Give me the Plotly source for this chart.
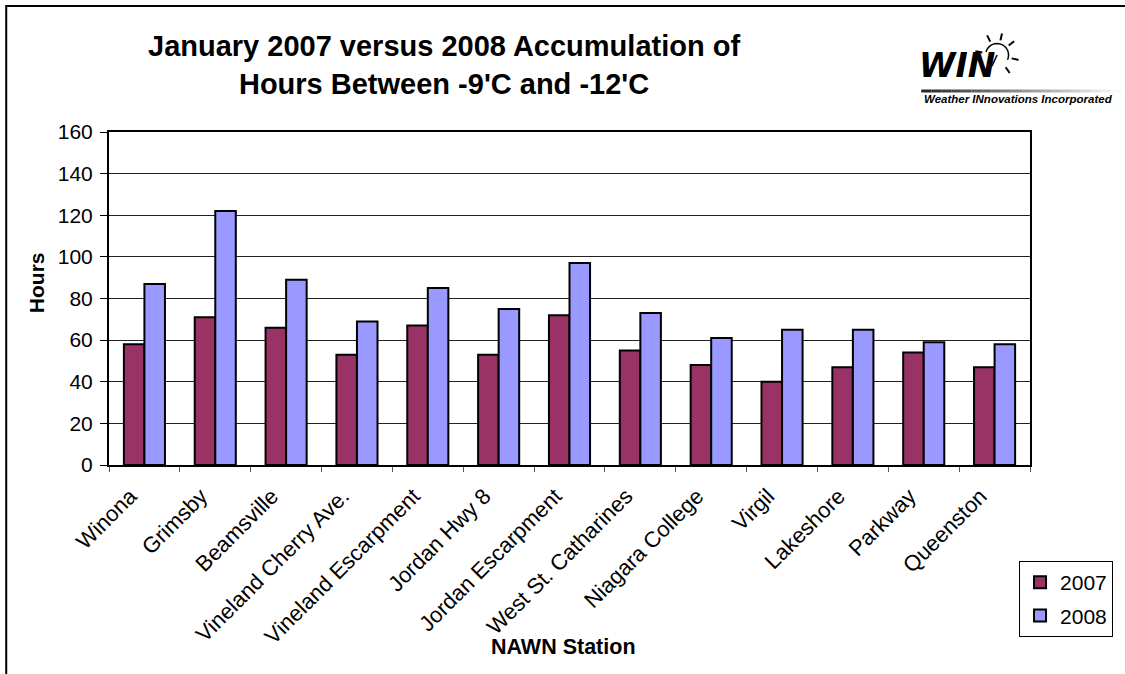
import plotly.graph_objects as go
import math

stations = ["Winona", "Grimsby", "Beamsville", "Vineland Cherry Ave.", "Vineland Escarpment",
            "Jordan Hwy 8", "Jordan Escarpment", "West St. Catharines", "Niagara College",
            "Virgil", "Lakeshore", "Parkway", "Queenston"]
hours_2007 = [58, 71, 66, 53, 67, 53, 72, 55, 48, 40, 47, 54, 47]
hours_2008 = [87, 122, 89, 69, 85, 75, 97, 73, 61, 65, 65, 59, 58]
y_ticks = [0, 20, 40, 60, 80, 100, 120, 140, 160]

W, H = 1125, 674
L, R, T, B = 109, 1032, 132, 465
FONT = "Liberation Sans, Arial, sans-serif"
FS = 21

def px(x):
    return (x - L) / (R - L)

def py(y):
    return (B - y) / (B - T)

n = len(stations)
label_pos = [i - 0.2 for i in range(n)]

fig = go.Figure()
fig.add_trace(go.Bar(x=stations, y=hours_2007, name="2007", legendgroup="a",
                     marker=dict(color="#993366", line=dict(color="black", width=2))))
fig.add_trace(go.Bar(x=stations, y=hours_2008, name="2008", legendgroup="b",
                     marker=dict(color="#9999FF", line=dict(color="black", width=2))))
# helper (empty) trace so the label axis is drawn
fig.add_trace(go.Scatter(x=[], y=[], xaxis="x2", yaxis="y", showlegend=False,
                         hoverinfo="skip"))

shapes = []
# outer chart border (extends past right/bottom of image)
shapes.append(dict(type="rect", xref="paper", yref="paper",
                   x0=px(6), y0=py(6), x1=px(1140), y1=py(690),
                   line=dict(color="black", width=2), fillcolor="rgba(0,0,0,0)", layer="above"))
# logo gradient line
for i in range(20):
    x0 = 923 + i * 10
    g = int(40 + i * 11)
    shapes.append(dict(type="line", xref="paper", yref="paper",
                       x0=px(x0), x1=px(x0 + 10), y0=py(91), y1=py(91),
                       line=dict(color=f"rgb({g},{g},{g})", width=3)))
# sun arc
cx, cy, r = 999, 55, 11.5
pts = []
for k in range(0, 19):
    a = math.radians(165 - k * 10.5)
    pts.append((cx + r * math.cos(a), cy - r * math.sin(a)))
path = "M " + " L ".join(f"{px(a):.5f},{py(b):.5f}" for a, b in pts)
shapes.append(dict(type="path", xref="paper", yref="paper", path=path,
                   line=dict(color="black", width=1.5)))
# sun rays
for ang in [170, 117, 77, 39, -13, -55]:
    a = math.radians(ang)
    r0, r1 = 15, 22
    shapes.append(dict(type="line", xref="paper", yref="paper",
                       x0=px(cx + r0 * math.cos(a)), y0=py(cy - r0 * math.sin(a)),
                       x1=px(cx + r1 * math.cos(a)), y1=py(cy - r1 * math.sin(a)),
                       line=dict(color="black", width=2)))
shapes.append(dict(type="line", xref="paper", yref="paper",
                   x0=px(999), y0=py(55), x1=px(994), y1=py(66),
                   line=dict(color="black", width=1.5)))

annotations = [
    dict(text="<b>January 2007 versus 2008 Accumulation of<br>Hours Between -9'C and -12'C</b>",
         xref="paper", yref="paper", x=px(445), y=py(65), xanchor="center", yanchor="middle",
         showarrow=False, font=dict(family=FONT, size=29, color="black")),
    dict(text="<b>Hours</b>", xref="paper", yref="paper", x=px(36), y=py(283),
         xanchor="center", yanchor="middle", textangle=-90, showarrow=False,
         font=dict(family=FONT, size=FS, color="black")),
    dict(text="<b>NAWN Station</b>", xref="paper", yref="paper", x=px(564), y=py(647),
         xanchor="center", yanchor="middle", showarrow=False,
         font=dict(family=FONT, size=21.5, color="black")),
    dict(text="<b><i>WIN</i></b>", xref="paper", yref="paper", x=px(919), y=py(65),
         xanchor="left", yanchor="middle", showarrow=False,
         font=dict(family="DejaVu Sans, sans-serif", size=33, color="black")),
    dict(text="<b><i>Weather INnovations Incorporated</i></b>", xref="paper", yref="paper",
         x=px(1117), y=py(99), xanchor="right", yanchor="middle", showarrow=False,
         font=dict(family=FONT, size=11.5, color="black")),
]

fig.update_layout(
    width=W, height=H, autosize=False,
    margin=dict(l=L, r=W - R, t=T, b=H - B, pad=0),
    paper_bgcolor="white", plot_bgcolor="white",
    font=dict(family=FONT, size=FS, color="black"),
    barmode="group", bargap=0.42, bargroupgap=0.0,
    showlegend=True,
    legend=dict(x=px(1021), y=py(561), xanchor="left", yanchor="top",
                bordercolor="black", borderwidth=1, bgcolor="white",
                font=dict(family=FONT, size=FS, color="black"),
                tracegroupgap=3, itemwidth=30),
    shapes=shapes, annotations=annotations,
    xaxis=dict(type="category", range=[-0.5, n - 0.5], showline=True, linecolor="black",
               linewidth=2, mirror=True, ticks="outside", tickson="boundaries", ticklen=5,
               tickcolor="#555", showticklabels=False, showgrid=False),
    xaxis2=dict(overlaying="x", side="bottom", range=[-0.5, n - 0.5],
                tickvals=label_pos, ticktext=stations, tickangle=-45, ticks="",
                ticklabelstandoff=13, showline=False, showgrid=False, zeroline=False,
                tickfont=dict(family=FONT, size=22, color="black")),
    yaxis=dict(range=[0, 160], tickvals=y_ticks, showline=True, linecolor="black",
               linewidth=2, mirror=True, ticks="outside", ticklen=7, tickcolor="black",
               ticklabelstandoff=3,
               showgrid=True, gridcolor="#222", gridwidth=1, zeroline=False,
               tickfont=dict(family=FONT, size=FS, color="black")),
)

fig.write_html("out.html", config={"displayModeBar": False},
               post_script="document.body.style.margin='0';document.body.style.overflow='hidden';")
